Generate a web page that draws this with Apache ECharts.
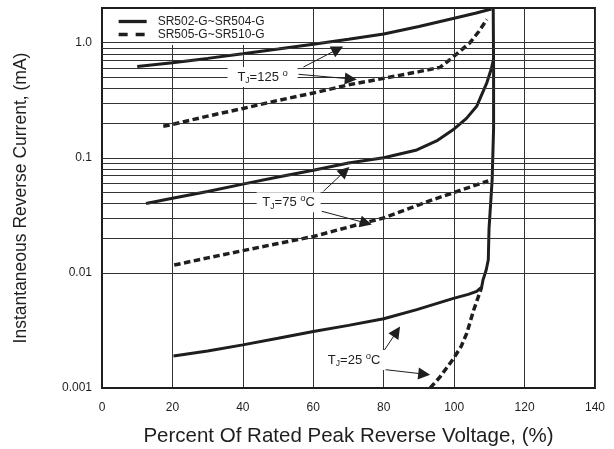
<!DOCTYPE html>
<html>
<head>
<meta charset="utf-8">
<script src="https://cdn.jsdelivr.net/npm/echarts@6/dist/echarts.min.js"></script>
<style>html,body{margin:0;padding:0;background:#fff}#c{width:614px;height:449px}</style>
</head>
<body>
<div id="c"></div>
<script>
// ---- data (x: % of rated peak reverse voltage, y: reverse current mA) ----
const nameSolid = 'SR502-G~SR504-G';
const nameDashed = 'SR505-G~SR510-G';
const xTicks = [0, 20, 40, 60, 80, 100, 120, 140];
const yTickValues = [0.001, 0.01, 0.1, 1];
const yTickLabels = ['0.001', '0.01', '0.1', '1.0'];
const yGridValues = [0.002,0.003,0.004,0.005,0.006,0.007,0.008,0.009,0.01,
  0.02,0.03,0.04,0.05,0.06,0.07,0.08,0.09,0.1,
  0.2,0.3,0.4,0.5,0.6,0.7,0.8,0.9,1];

const solid125 = [[10,0.62],[20,0.67],[30,0.73],[40,0.8],[50,0.88],[60,0.97],[70,1.07],[80,1.19],[90,1.38],[100,1.63],[106,1.8],[110.6,1.96]];
const solid75 = [[12.5,0.04],[20,0.0445],[30,0.051],[40,0.059],[50,0.068],[60,0.078],[70,0.09],[80,0.1],[89.4,0.117],[95,0.14],[100,0.178],[103.5,0.22],[106.4,0.28],[109.3,0.45],[110.6,0.6],[111.1,0.7]];
const solid25 = [[20.3,0.0019],[30,0.0021],[40,0.00237],[50,0.0027],[60,0.0031],[70,0.0035],[80,0.004],[89.4,0.0048],[99.8,0.006],[104,0.0065],[106.4,0.0069],[107.8,0.0075],[108.2,0.0087],[109.1,0.0106],[109.7,0.013],[109.9,0.024],[110.8,0.065],[111.2,0.18],[111.2,0.6],[111.1,1.96]];
const dashed125 = [[17.4,0.188],[20,0.195],[30,0.23],[40,0.268],[50,0.315],[60,0.365],[70,0.43],[80,0.49],[90,0.56],[96,0.61],[99,0.72],[102,0.86],[104.5,1.0],[107,1.25],[109.3,1.59]];
const dashed75 = [[20.5,0.0117],[30,0.0135],[40,0.0156],[50,0.018],[60,0.0207],[70,0.025],[80,0.03],[90,0.039],[94.1,0.0434],[100,0.05],[109.7,0.063]];
const dashed25 = [[93.2,0.001],[96,0.00125],[99.8,0.0018],[102,0.0023],[103.6,0.003],[105.5,0.0047],[107.8,0.0075]];

// annotation labels
const annotLabels = [
  {x: 45.6, y: 0.502, temp: '125 ', unit: '', w: 70},
  {x: 53, y: 0.0411, temp: '75 ', unit: 'C', w: 64},
  {x: 71.6, y: 0.00175, temp: '25 ', unit: 'C', w: 63}
];
// annotation arrows: from -> arrowhead centre
const annotArrows = [
  [[57.2, 0.614], [66.96, 0.878]],
  [[55.8, 0.531], [70.65, 0.484]],
  [[62.9, 0.0512], [69.0, 0.0767]],
  [[62.4, 0.0343], [74.97, 0.0271]],
  [[79.9, 0.00207], [83.7, 0.00309]],
  [[79.9, 0.00145], [91.5, 0.00132]]
];

const FONT = 'Liberation Sans, Arial, sans-serif';
const INK = '#1e1e1e';

function solidSeries(data) {
  return {type: 'line', name: nameSolid, data: data, symbol: 'none', z: 3,
    lineStyle: {color: INK, width: 3}, itemStyle: {color: INK}, animation: false, silent: true};
}
function dashedSeries(data) {
  return {type: 'line', name: nameDashed, data: data, symbol: 'none', z: 3,
    lineStyle: {color: INK, width: 3.5, type: [6.5, 3.5], cap: 'butt'}, itemStyle: {color: INK}, animation: false, silent: true};
}

const chart = echarts.init(document.getElementById('c'));
chart.setOption({
  backgroundColor: '#fff',
  animation: false,
  grid: {left: 102, right: 19, top: 8, bottom: 61, show: true, borderColor: INK, borderWidth: 2,
    backgroundColor: 'transparent', containLabel: false, outerBoundsMode: 'none'},
  legend: {
    data: [
      {name: nameSolid, lineStyle: {width: 3.3, type: 'solid'}},
      {name: nameDashed, lineStyle: {width: 3.3, type: [9, 8], cap: 'butt'}}
    ],
    orient: 'vertical', left: 103, top: 9,
    itemWidth: 28, itemHeight: 10, itemGap: 0, padding: [6, 14, 4, 14],
    backgroundColor: '#fff', selectedMode: false,
    itemStyle: {opacity: 0},
    textStyle: {fontFamily: FONT, fontSize: 12, lineHeight: 13, color: INK, padding: [0, 0, 0, 6]}
  },
  xAxis: {
    type: 'value', min: 0, max: 140, interval: 20,
    name: 'Percent Of Rated Peak Reverse Voltage, (%)', nameLocation: 'middle', nameGap: 38,
    nameTextStyle: {fontFamily: FONT, fontSize: 20.5, color: INK},
    axisLine: {show: true, lineStyle: {color: INK, width: 2}},
    axisTick: {show: false},
    axisLabel: {fontFamily: FONT, fontSize: 12, color: INK, margin: 14},
    splitLine: {show: true, lineStyle: {color: '#333', width: 1}}
  },
  yAxis: {
    type: 'log', logBase: 10, min: 0.001, max: 2,
    name: 'Instantaneous Reverse Current, (mA)', nameLocation: 'middle', nameGap: 72,
    nameTextStyle: {fontFamily: FONT, fontSize: 17.5, color: INK},
    axisLine: {show: true, lineStyle: {color: INK, width: 2}},
    axisTick: {show: false},
    axisLabel: {fontFamily: FONT, fontSize: 12, color: INK, margin: 10,
      formatter: function (v) {
        for (let i = 0; i < yTickValues.length; i++) {
          if (Math.abs(Math.log10(v) - Math.log10(yTickValues[i])) < 1e-6) return yTickLabels[i];
        }
        return '';
      }},
    splitLine: {show: false}
  },
  series: [
    {type: 'line', name: 'grid', data: [], z: 1, silent: true, animation: false,
      markLine: {silent: true, symbol: ['none', 'none'], animation: false,
        label: {show: false},
        lineStyle: {color: '#333', width: 1, type: 'solid'},
        data: yGridValues.map(v => ({yAxis: v}))}
    },
    solidSeries(solid125), solidSeries(solid75), solidSeries(solid25),
    dashedSeries(dashed125), dashedSeries(dashed75), dashedSeries(dashed25),
    {type: 'line', name: 'annot', data: [], z: 4, silent: true, animation: false,
      markLine: {silent: true, animation: false, symbol: ['none', 'triangle'], symbolSize: 12,
        label: {show: false},
        lineStyle: {color: INK, width: 1, type: 'solid'},
        itemStyle: {color: INK},
        data: annotArrows.map(a => [{coord: a[0]}, {coord: a[1]}])},
      markPoint: {silent: true, animation: false, symbol: 'rect',
        itemStyle: {color: '#fff'},
        label: {show: true, position: 'inside', color: INK, fontFamily: FONT,
          rich: {
            t: {fontFamily: FONT, fontSize: 13, color: INK, lineHeight: 17},
            s: {fontFamily: FONT, fontSize: 8.5, color: INK, lineHeight: 12, verticalAlign: 'bottom'},
            p: {fontFamily: FONT, fontSize: 9.5, color: INK, lineHeight: 13, verticalAlign: 'top'}
          }},
        data: annotLabels.map(l => ({coord: [l.x, l.y], symbolSize: [l.w, 20],
          label: {formatter: '{t|T}{s|J}{t|=' + l.temp + '}{p|o}' + (l.unit ? '{t|' + l.unit + '}' : '')}}))}
    }
  ]
});
</script>
</body>
</html>
